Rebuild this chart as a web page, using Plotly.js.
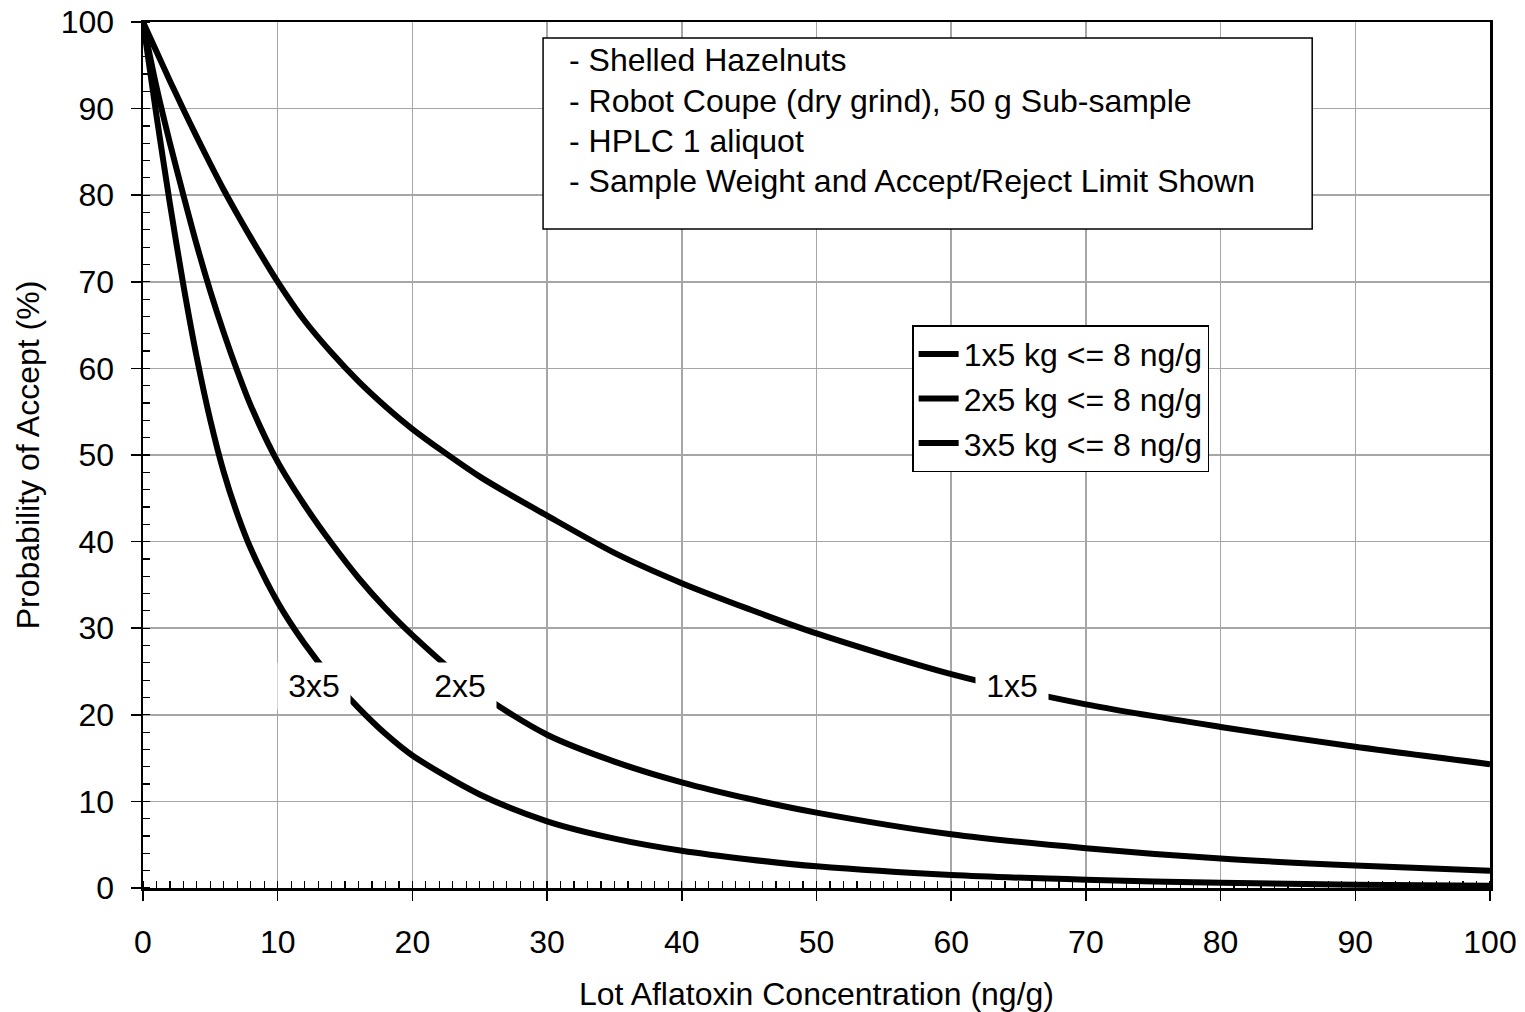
<!DOCTYPE html>
<html>
<head>
<meta charset="utf-8">
<script src="https://cdn.plot.ly/plotly-3.0.1.min.js"></script>
<style>
  html, body { margin: 0; padding: 0; background: #ffffff; }
  #chart { width: 1525px; height: 1012px; }
</style>
</head>
<body>
<div id="chart"></div>
<script>
// Lot aflatoxin concentration (ng/g)
const lotConc = [0, 1, 2, 3, 4, 5, 6, 7, 8, 10, 12, 14, 16, 18, 20, 25, 30, 35, 40, 45, 50, 60, 70, 80, 90, 100];

// Probability of acceptance (%) for each sampling plan
const accept1x5 = [100, 96.6, 93.2, 89.9, 86.7, 83.6, 80.6, 77.8, 75.1, 70, 65.5, 61.8, 58.5, 55.6, 53, 47.5, 43, 38.7, 35.2, 32.2, 29.4, 24.7, 21.2, 18.6, 16.3, 14.3];
const accept2x5 = [100, 92.5, 86, 80, 74.2, 68.9, 64.1, 59.7, 55.7, 49.2, 44.2, 39.8, 35.8, 32.3, 29.2, 22.5, 17.7, 14.6, 12.2, 10.3, 8.7, 6.2, 4.6, 3.4, 2.6, 2.0];
const accept3x5 = [100, 89.2, 79, 69.6, 61.2, 54, 48, 43.2, 39.2, 33, 28.2, 24.2, 20.8, 17.8, 15.3, 10.8, 7.7, 5.7, 4.3, 3.3, 2.5, 1.5, 0.95, 0.6, 0.38, 0.25];

const seriesNames = ["1x5 kg <= 8 ng/g", "2x5 kg <= 8 ng/g", "3x5 kg <= 8 ng/g"];
const seriesValues = [accept1x5, accept2x5, accept3x5];

// Curve labels
const curveLabels = ["3x5", "2x5", "1x5"];
const curveLabelX = [12.7, 23.5, 64.5];
const curveLabelY = [23.3, 23.3, 23.3];

// Info box lines
const infoLines = [
  "- Shelled Hazelnuts",
  "- Robot Coupe (dry grind), 50 g Sub-sample",
  "- HPLC 1 aliquot",
  "- Sample Weight and Accept/Reject Limit Shown"
];

// Axis labels
const xTitle = "Lot Aflatoxin Concentration (ng/g)";
const yTitle = "Probability of Accept (%)";

const FONT = "Liberation Sans, Arial, sans-serif";
const FS = 32;

const traces = seriesValues.map((vals, i) => ({
  type: "scatter",
  mode: "lines",
  x: lotConc,
  y: vals,
  name: seriesNames[i],
  legendgroup: "g" + i,
  line: { color: "#000000", width: 6, shape: "spline", smoothing: 0.8 },
  hoverinfo: "x+y+name"
}));

const annotations = [];
curveLabels.forEach((t, i) => {
  annotations.push({
    xref: "x", yref: "y",
    x: curveLabelX[i], y: curveLabelY[i],
    text: t, showarrow: false,
    font: { family: FONT, size: FS, color: "#000" },
    bgcolor: "#ffffff",
    width: 70, height: 44,
    xanchor: "center", yanchor: "middle"
  });
});

const infoY = [0.956, 0.909, 0.8626, 0.8164];
infoLines.forEach((t, i) => {
  annotations.push({
    xref: "paper", yref: "paper",
    x: 0.3148, y: infoY[i],
    text: t, showarrow: false,
    font: { family: FONT, size: FS, color: "#000" },
    xanchor: "left", yanchor: "middle", align: "left"
  });
});

const layout = {
  width: 1525, height: 1012,
  paper_bgcolor: "#ffffff",
  plot_bgcolor: "#ffffff",
  margin: { l: 143, r: 35, t: 22, b: 124 },
  font: { family: FONT, size: FS, color: "#000" },
  showlegend: true,
  legend: {
    x: 0.571, y: 0.650, xanchor: "left", yanchor: "top",
    bgcolor: "#ffffff", bordercolor: "#000000", borderwidth: 1.5,
    font: { family: FONT, size: FS, color: "#000" },
    tracegroupgap: 0,
    itemwidth: 40
  },
  xaxis: {
    range: [0, 100],
    dtick: 10, tick0: 0,
    showgrid: true, gridcolor: "#a6a6a6", gridwidth: 1.5,
    showline: true, linecolor: "#000000", linewidth: 2.5, mirror: true,
    ticks: "outside", ticklen: 10, tickwidth: 1.5, tickcolor: "#000",
    ticklabelstandoff: 14,
    minor: { dtick: 1, ticks: "inside", ticklen: 7, tickwidth: 1.2, tickcolor: "#000", showgrid: false },
    zeroline: false,
    tickfont: { family: FONT, size: FS, color: "#000" },
    title: { text: xTitle, font: { family: FONT, size: FS, color: "#000" }, standoff: 34 }
  },
  yaxis: {
    range: [0, 100],
    dtick: 10, tick0: 0,
    showgrid: true, gridcolor: "#a6a6a6", gridwidth: 1.5,
    showline: true, linecolor: "#000000", linewidth: 2.5, mirror: true,
    ticks: "outside", ticklen: 10, tickwidth: 1.5, tickcolor: "#000",
    ticklabelstandoff: 10,
    minor: { dtick: 2, ticks: "inside", ticklen: 7, tickwidth: 1.2, tickcolor: "#000", showgrid: false },
    zeroline: false,
    tickfont: { family: FONT, size: FS, color: "#000" },
    title: { text: yTitle, font: { family: FONT, size: FS, color: "#000" }, standoff: 12 }
  },
  shapes: [{
    type: "rect", xref: "paper", yref: "paper",
    x0: 0.297, x1: 0.868, y0: 0.761, y1: 0.9815,
    line: { color: "#000000", width: 1.5 },
    fillcolor: "#ffffff", layer: "above"
  }],
  annotations: annotations
};

Plotly.newPlot("chart", traces, layout, { displayModeBar: false, staticPlot: true });
</script>
</body>
</html>
